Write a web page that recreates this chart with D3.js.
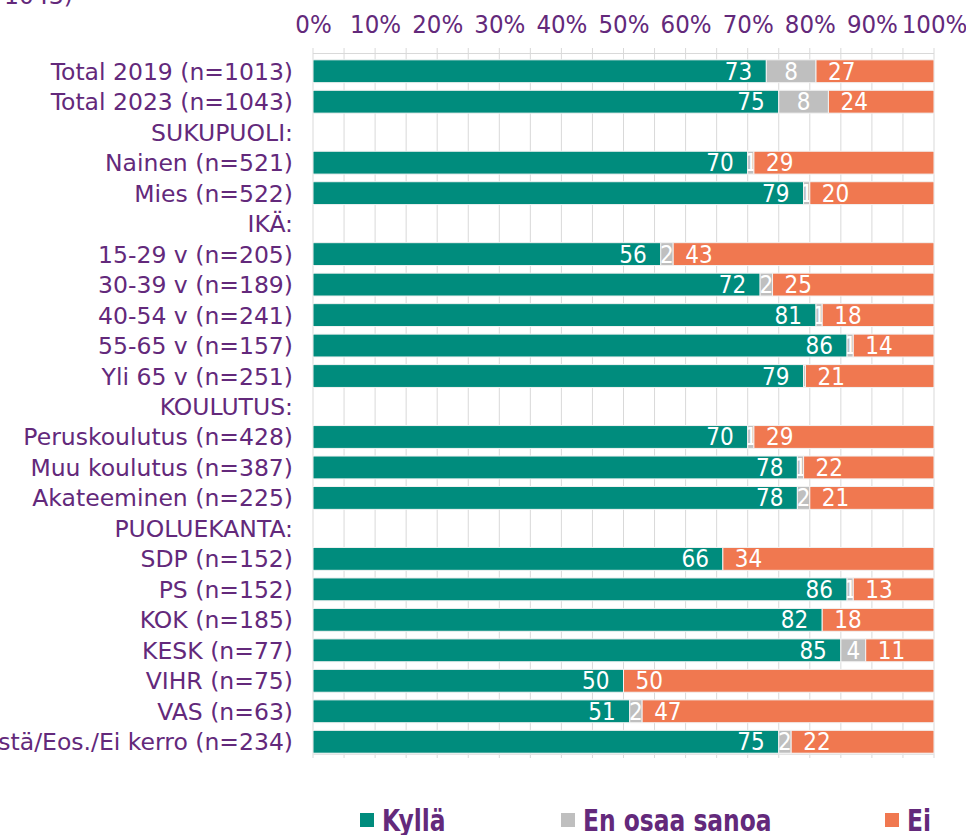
<!DOCTYPE html>
<html>
<head>
<meta charset="utf-8">
<script src="https://cdn.jsdelivr.net/npm/d3@7"></script>
<style>
  body { margin: 0; background: #fff; }
</style>
</head>
<body>
<div id="chart"></div>
<script>
"use strict"

// rows of the chart, top to bottom (group headers have no values)
let categories = [
  "Total 2019 (n=1013)", "Total 2023 (n=1043)", "SUKUPUOLI:",
  "Nainen (n=521)", "Mies (n=522)", "IKÄ:",
  "15-29 v (n=205)", "30-39 v (n=189)", "40-54 v (n=241)", "55-65 v (n=157)", "Yli 65 v (n=251)",
  "KOULUTUS:", "Peruskoulutus (n=428)", "Muu koulutus (n=387)", "Akateeminen (n=225)",
  "PUOLUEKANTA:", "SDP (n=152)", "PS (n=152)", "KOK (n=185)", "KESK (n=77)",
  "VIHR (n=75)", "VAS (n=63)", "Muut/Ei äänestä/Eos./Ei kerro (n=234)"
];
let headers = ["SUKUPUOLI:", "IKÄ:", "KOULUTUS:", "PUOLUEKANTA:"];

let kylla = [73, 75, null, 70, 79, null, 56, 72, 81, 86, 79, null, 70, 78, 78, null, 66, 86, 82, 85, 50, 51, 75];
let eos   = [8, 8, null, 1, 1, null, 2, 2, 1, 1, 0.3, null, 1, 1, 2, null, 0, 1, 0, 4, 0, 2, 2];
let ei    = [27, 24, null, 29, 20, null, 43, 25, 18, 14, 21, null, 29, 22, 21, null, 34, 13, 18, 11, 50, 47, 22];

let seriesNames = ["Kyllä", "En osaa sanoa", "Ei"];
let seriesColors = ["#008c7d", "#bfbfbf", "#f07850"];
let tickValues = [0, 10, 20, 30, 40, 50, 60, 70, 80, 90, 100];
let gridValues = d3.range(0, 101, 5);

let width = 966;
let height = 835;
let purple = "#63297b";
let narrow = "'Liberation Sans Narrow', 'DejaVu Sans Condensed', sans-serif";

let svg = d3.select("#chart")
    .append("svg")
    .attr("width", width)
    .attr("height", height);

let x = d3.scaleLinear()
    .domain([0, 100])
    .range([313, 934])
    .clamp(true);

let y = d3.scaleBand()
    .domain(categories)
    .range([56, 757])
    .paddingInner(0.25)
    .paddingOuter(0.125);

// grid
svg.append("g")
    .selectAll("line")
    .data(gridValues)
    .join("line")
    .attr("x1", d => x(d))
    .attr("x2", d => x(d))
    .attr("y1", 48)
    .attr("y2", 758)
    .attr("stroke", "#d9d9d9")
    .attr("stroke-width", 1);

svg.append("line")
    .attr("x1", x(0)).attr("x2", x(100))
    .attr("y1", 53.5).attr("y2", 53.5)
    .attr("stroke", "#d9d9d9");

svg.append("line")
    .attr("x1", x(0)).attr("x2", x(100))
    .attr("y1", 754.5).attr("y2", 754.5)
    .attr("stroke", "#e4e4e4");

// top tick labels
let axisTop = d3.axisTop(x)
    .tickValues(tickValues)
    .tickFormat(d => d + "%")
    .tickSize(0);

let ax = svg.append("g")
    .attr("transform", "translate(0,33)")
    .call(axisTop);
ax.select(".domain").remove();
ax.selectAll("text")
    .attr("dy", 0)
    .attr("y", 0)
    .attr("fill", purple)
    .style("font-family", narrow)
    .style("font-size", "25.5px");

// row labels
svg.append("g")
    .selectAll("text")
    .data(categories)
    .join("text")
    .attr("x", 293)
    .attr("y", d => y(d) + y.bandwidth() / 2 + 8.5)
    .attr("text-anchor", "end")
    .attr("fill", purple)
    .style("font-family", "'DejaVu Sans', sans-serif")
    .style("font-size", "23.5px")
    .text(d => d);

// cut off title line at the top
svg.append("text")
    .attr("x", 73)
    .attr("y", 4)
    .attr("text-anchor", "end")
    .attr("fill", purple)
    .style("font-family", "'DejaVu Sans', sans-serif")
    .style("font-size", "23.5px")
    .text("1043)");

// stacked bars, the last segment (Ei) runs to the end of the axis
let rows = categories.map((c, i) => ({cat: c, v: [kylla[i], eos[i], ei[i]]}))
    .filter(r => !headers.includes(r.cat));

let defs = svg.append("defs");
let clipId = 0;

rows.forEach(r => {
  let start = 0;
  r.v.forEach((val, s) => {
    let x0 = x(start);
    let x1 = s == 2 ? x(100) : x(start + val);
    let top = y(r.cat);
    let h = y.bandwidth();
    start += val;
    if (x1 - x0 <= 0) return;

    svg.append("rect")
        .attr("x", x0)
        .attr("y", top)
        .attr("width", x1 - x0)
        .attr("height", h)
        .attr("fill", seriesColors[s])
        .attr("stroke", "#f2f2f2")
        .attr("stroke-width", 1);

    if (Math.round(val) < 1) return;

    let label = svg.append("text")
        .attr("y", top + h / 2 + 8.5)
        .attr("fill", "#fff")
        .style("font-family", narrow)
        .style("font-size", "24px")
        .text(Math.round(val));

    if (s == 0) {
      label.attr("x", x1 - 14).attr("text-anchor", "end");
    } else if (s == 1) {
      let id = "clip" + (clipId++);
      defs.append("clipPath").attr("id", id)
          .append("rect")
          .attr("x", x0).attr("y", top)
          .attr("width", x1 - x0).attr("height", h);
      label.attr("x", (x0 + x1) / 2)
          .attr("text-anchor", "middle")
          .attr("clip-path", "url(#" + id + ")");
    } else {
      label.attr("x", x0 + 12).attr("text-anchor", "start");
    }
  });
});

// legend
let legendX = [360, 561, 885];
let legend = svg.append("g")
    .selectAll("g")
    .data(seriesNames)
    .join("g")
    .attr("transform", (d, i) => "translate(" + legendX[i] + ",813)");

legend.append("rect")
    .attr("width", 14)
    .attr("height", 14)
    .attr("fill", (d, i) => seriesColors[i]);

legend.append("text")
    .attr("transform", "translate(22,17.5) scale(1,1.18)")
    .attr("fill", purple)
    .style("font-family", "'DejaVu Sans Condensed', 'DejaVu Sans', sans-serif")
    .style("font-weight", "bold")
    .style("font-size", "26px")
    .text(d => d);
</script>
</body>
</html>
